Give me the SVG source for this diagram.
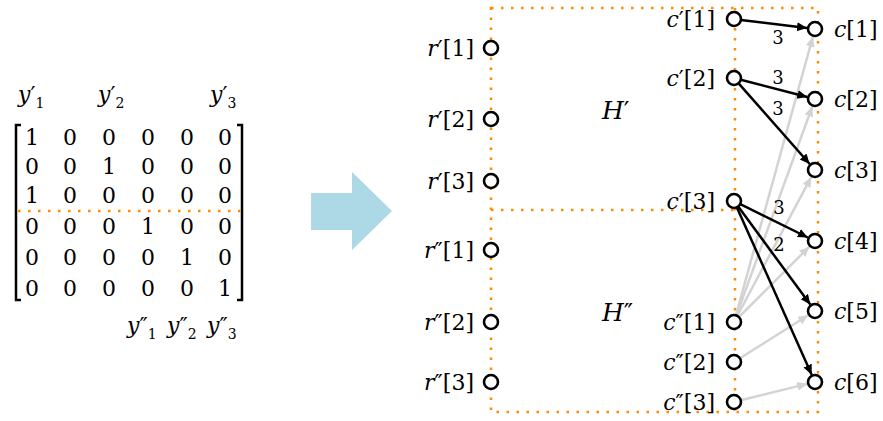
<svg xmlns="http://www.w3.org/2000/svg" width="883" height="421" viewBox="0 0 883 421">
<style>
text{font-family:"DejaVu Serif","Liberation Serif",serif;font-size:22px;fill:#000}
.m{font-size:20px;text-anchor:middle}
.i{font-style:italic}
.sub{font-size:14px}
.big{font-size:25px}
.dot{stroke:#FF8C00;stroke-width:2.5;stroke-dasharray:2.5 7.5;fill:none}
.node{fill:#fff;stroke:#000;stroke-width:2.6}
.blk{stroke:#000;stroke-width:2.5;fill:none;marker-end:url(#ab)}
.gry{stroke:#d3d3d3;stroke-width:2.5;fill:none;marker-end:url(#ag)}
.lbl{text-anchor:end}
.wl{font-size:18px;text-anchor:middle}
</style>
<defs>
<marker id="ab" markerUnits="userSpaceOnUse" markerWidth="12" markerHeight="10" refX="10" refY="4.5" orient="auto"><path d="M0,0 L10,4.5 L0,9 z" fill="#000"/></marker>
<marker id="ag" markerUnits="userSpaceOnUse" markerWidth="12" markerHeight="10" refX="10" refY="4.5" orient="auto"><path d="M0,0 L10,4.5 L0,9 z" fill="#d3d3d3"/></marker>
</defs>

<g id="matrix">
<path d="M21,125 H16 V300 H21" fill="none" stroke="#000" stroke-width="2.5"/>
<path d="M237,125 H242 V300 H237" fill="none" stroke="#000" stroke-width="2.5"/>
<line class="dot" x1="18" y1="211" x2="243" y2="211"/>
<g class="m">
<text x="32" y="145">1</text><text x="70" y="145">0</text><text x="109" y="145">0</text><text x="148" y="145">0</text><text x="187" y="145">0</text><text x="225" y="145">0</text>
<text x="32" y="174">0</text><text x="70" y="174">0</text><text x="109" y="174">1</text><text x="148" y="174">0</text><text x="187" y="174">0</text><text x="225" y="174">0</text>
<text x="32" y="203">1</text><text x="70" y="203">0</text><text x="109" y="203">0</text><text x="148" y="203">0</text><text x="187" y="203">0</text><text x="225" y="203">0</text>
<text x="32" y="234">0</text><text x="70" y="234">0</text><text x="109" y="234">0</text><text x="148" y="234">1</text><text x="187" y="234">0</text><text x="225" y="234">0</text>
<text x="32" y="265">0</text><text x="70" y="265">0</text><text x="109" y="265">0</text><text x="148" y="265">0</text><text x="187" y="265">1</text><text x="225" y="265">0</text>
<text x="32" y="296">0</text><text x="70" y="296">0</text><text x="109" y="296">0</text><text x="148" y="296">0</text><text x="187" y="296">0</text><text x="225" y="296">1</text>
</g>
<text x="18" y="102" font-size="20"><tspan class="i">y</tspan>′<tspan class="sub" dy="6">1</tspan></text>
<text x="98" y="102" font-size="20"><tspan class="i">y</tspan>′<tspan class="sub" dy="6">2</tspan></text>
<text x="210" y="102" font-size="20"><tspan class="i">y</tspan>′<tspan class="sub" dy="6">3</tspan></text>
<text x="127" y="333" font-size="20"><tspan class="i">y</tspan>″<tspan class="sub" dy="6">1</tspan></text>
<text x="167" y="333" font-size="20"><tspan class="i">y</tspan>″<tspan class="sub" dy="6">2</tspan></text>
<text x="207" y="333" font-size="20"><tspan class="i">y</tspan>″<tspan class="sub" dy="6">3</tspan></text>
</g>

<g id="bigarrow">
<path d="M311,193 H352 V172 L392,211 L352,250 V230 H311 z" fill="#ADD8E6"/>
</g>

<g id="boxes">
<path class="dot" d="M491,8 H818 V412 H491 Z"/>
<line class="dot" x1="491" y1="210" x2="735" y2="210"/>
<line class="dot" x1="735" y1="8" x2="735" y2="412"/>
</g>

<g id="connectors">
<line class="gry" x1="735.9" y1="315.3" x2="812.9" y2="36.7"/>
<line class="gry" x1="736.4" y1="315.4" x2="812.3" y2="106.5"/>
<line class="gry" x1="737.3" y1="315.8" x2="811.2" y2="177.1"/>
<line class="gry" x1="739" y1="317" x2="809.3" y2="246.7"/>
<line class="gry" x1="739.9" y1="358.3" x2="808.2" y2="315.3"/>
<line class="gry" x1="740.8" y1="400.3" x2="807.2" y2="383.9"/>
<line class="blk" x1="741" y1="19.9" x2="807" y2="28"/>
<line class="blk" x1="740.8" y1="79.8" x2="807.3" y2="97"/>
<line class="blk" x1="738.6" y1="83.3" x2="809.7" y2="164"/>
<line class="blk" x1="740.3" y1="204.1" x2="807.8" y2="237.5"/>
<line class="blk" x1="738.2" y1="206.6" x2="810.3" y2="304.6"/>
<line class="blk" x1="736.9" y1="207.4" x2="811.7" y2="374.7"/>
<text class="wl" x="778" y="44">3</text>
<text class="wl" x="778" y="84">3</text>
<text class="wl" x="778" y="115">3</text>
<text class="wl" x="779" y="214">3</text>
<text class="wl" x="779" y="251">2</text>
</g>

<text class="big" x="602" y="119"><tspan class="i">H</tspan>′</text>
<text class="big" x="602" y="321"><tspan class="i">H</tspan>″</text>

<g id="r1"><circle class="node" cx="491" cy="48" r="7"/><text class="lbl" x="474" y="56"><tspan class="i">r</tspan>′[1]</text></g>
<g id="r2"><circle class="node" cx="491" cy="119" r="7"/><text class="lbl" x="474" y="127"><tspan class="i">r</tspan>′[2]</text></g>
<g id="r3"><circle class="node" cx="491" cy="181" r="7"/><text class="lbl" x="474" y="189"><tspan class="i">r</tspan>′[3]</text></g>
<g id="r4"><circle class="node" cx="491" cy="250" r="7"/><text class="lbl" x="474" y="258"><tspan class="i">r</tspan>″[1]</text></g>
<g id="r5"><circle class="node" cx="491" cy="322" r="7"/><text class="lbl" x="474" y="330"><tspan class="i">r</tspan>″[2]</text></g>
<g id="r6"><circle class="node" cx="491" cy="382" r="7"/><text class="lbl" x="474" y="390"><tspan class="i">r</tspan>″[3]</text></g>

<g id="cp1"><circle class="node" cx="734" cy="19" r="7"/><text class="lbl" x="715" y="27"><tspan class="i">c</tspan>′[1]</text></g>
<g id="cp2"><circle class="node" cx="734" cy="78" r="7"/><text class="lbl" x="715" y="86"><tspan class="i">c</tspan>′[2]</text></g>
<g id="cp3"><circle class="node" cx="734" cy="201" r="7"/><text class="lbl" x="715" y="209"><tspan class="i">c</tspan>′[3]</text></g>
<g id="cpp1"><circle class="node" cx="734" cy="322" r="7"/><text class="lbl" x="715" y="330"><tspan class="i">c</tspan>″[1]</text></g>
<g id="cpp2"><circle class="node" cx="734" cy="362" r="7"/><text class="lbl" x="715" y="370"><tspan class="i">c</tspan>″[2]</text></g>
<g id="cpp3"><circle class="node" cx="734" cy="402" r="7"/><text class="lbl" x="715" y="410"><tspan class="i">c</tspan>″[3]</text></g>

<g id="c1"><circle class="node" cx="815" cy="29" r="7"/><text x="834" y="37"><tspan class="i">c</tspan>[1]</text></g>
<g id="c2"><circle class="node" cx="815" cy="99" r="7"/><text x="834" y="107"><tspan class="i">c</tspan>[2]</text></g>
<g id="c3"><circle class="node" cx="815" cy="170" r="7"/><text x="834" y="178"><tspan class="i">c</tspan>[3]</text></g>
<g id="c4"><circle class="node" cx="815" cy="241" r="7"/><text x="834" y="249"><tspan class="i">c</tspan>[4]</text></g>
<g id="c5"><circle class="node" cx="815" cy="311" r="7"/><text x="834" y="319"><tspan class="i">c</tspan>[5]</text></g>
<g id="c6"><circle class="node" cx="815" cy="382" r="7"/><text x="834" y="390"><tspan class="i">c</tspan>[6]</text></g>
</svg>
